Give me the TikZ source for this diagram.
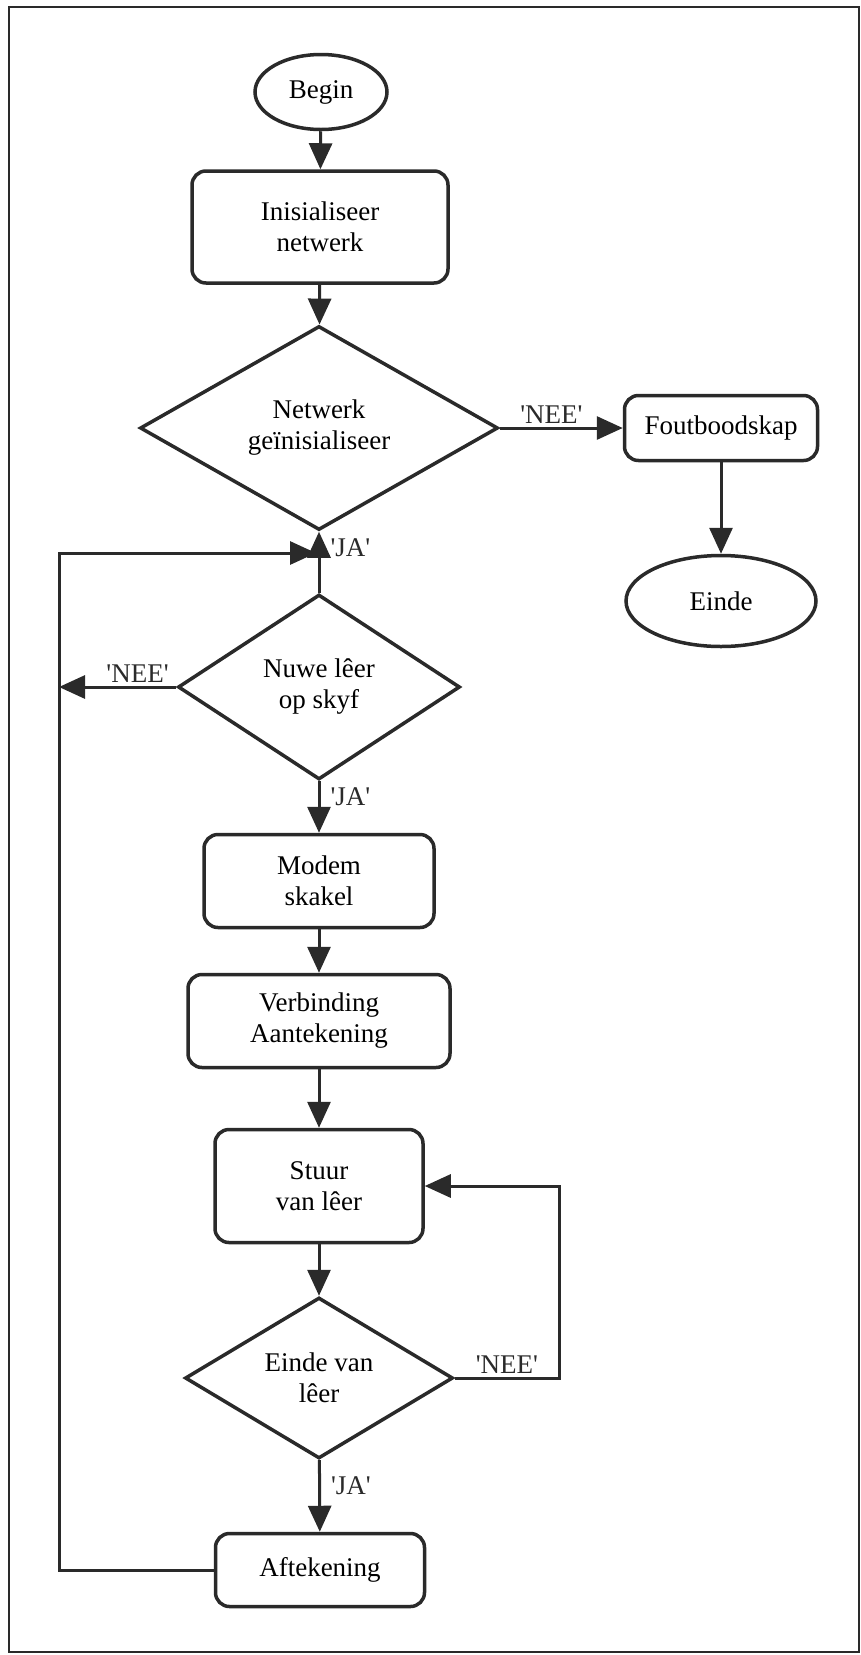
\documentclass[tikz,border=0pt]{standalone}
\usepackage{fontspec}
\setmainfont{Liberation Serif}
\usepackage{tikz}
\usetikzlibrary{shapes.geometric, arrows.meta, positioning}

\definecolor{ink}{HTML}{2A2A2A}
\newcommand{\qt}[1]{\textquotesingle#1\textquotesingle}

\begin{document}
\begin{tikzpicture}[x=1pt, y=-1pt,
    font=\fontsize{27}{31}\selectfont,
    proc/.style={draw=ink, line width=3.5pt, rounded corners=14pt, align=center},
    dec/.style={draw=ink, line width=3.5pt, diamond, align=center, inner sep=0pt},
    term/.style={draw=ink, line width=3.5pt, ellipse, align=center},
    flow/.style={draw=ink, line width=3pt, -{Triangle[length=26pt, width=23pt]}},
    lbl/.style={inner sep=3pt, text=ink},
    ja/.style={lbl, right, xshift=7pt}]
        \useasboundingbox (0,0) rectangle (861,1655);
        \draw[ink, line width=1.8pt] (9,7) rectangle (859,1652);

        % main column
        \node[term, minimum width=132pt, minimum height=75pt] (begin) at (321,92) {Begin};
        \node[proc, minimum width=256pt, minimum height=112pt] (init) at (320,227) {Inisialiseer\\netwerk};
        \node[dec, minimum width=358pt, minimum height=204pt] (netok) at (319,428) {Netwerk\\geïnisialiseer};
        \node[dec, minimum width=282pt, minimum height=185pt] (nuwe) at (319,687) {Nuwe lêer\\op skyf};
        \node[proc, minimum width=230pt, minimum height=93pt] (modem) at (319,881) {Modem\\skakel};
        \node[proc, minimum width=262pt, minimum height=93pt] (verb) at (319,1021) {Verbinding\\Aantekening};
        \node[proc, minimum width=208pt, minimum height=113pt] (stuur) at (319,1186) {Stuur\\van lêer};
        \node[dec, minimum width=268pt, minimum height=161pt] (eindl) at (319,1378) {Einde van\\lêer};
        \node[proc, minimum width=209pt, minimum height=73pt] (af) at (320,1570) {Aftekening};

        % error branch
        \node[proc, minimum width=193pt, minimum height=65pt] (fout) at (721,428) {Foutboodskap};
        \node[term, minimum width=190pt, minimum height=91pt] (einde) at (721,601) {Einde};

        \coordinate (loopbot) at (59,1570);
        \coordinate (looptop) at (59,553);
        \coordinate (merge) at (319,553);
        \coordinate (nuwenee) at (59,687);
        \coordinate (rb) at (559,1378);
        \coordinate (rt) at (559,1186);

        \draw[flow] (begin) -- (init);
        \draw[flow] (init) -- (netok);
        \draw[flow] (netok) -- node[lbl, above, pos=0.42] {\qt{NEE}} (fout);
        \draw[flow] (fout) -- (einde);
        \draw[flow] (nuwe) -- node[ja, pos=0.74] {\qt{JA}} (netok);
        \draw[flow] (nuwe) -- node[lbl, above, pos=0.33] {\qt{NEE}} (nuwenee);
        \draw[flow] (nuwe) -- node[ja, pos=0.3] {\qt{JA}} (modem);
        \draw[flow] (modem) -- (verb);
        \draw[flow] (verb) -- (stuur);
        \draw[flow] (stuur) -- (eindl);
        \draw[flow] (eindl) -- node[ja, pos=0.36] {\qt{JA}} (af);
        \draw[flow] (eindl) -- node[lbl, above] {\qt{NEE}} (rb) -- (rt) -- (stuur);
        \draw[flow] (af) -- (loopbot) -- (looptop) -- ([xshift=-3pt]merge);
\end{tikzpicture}
\end{document}
